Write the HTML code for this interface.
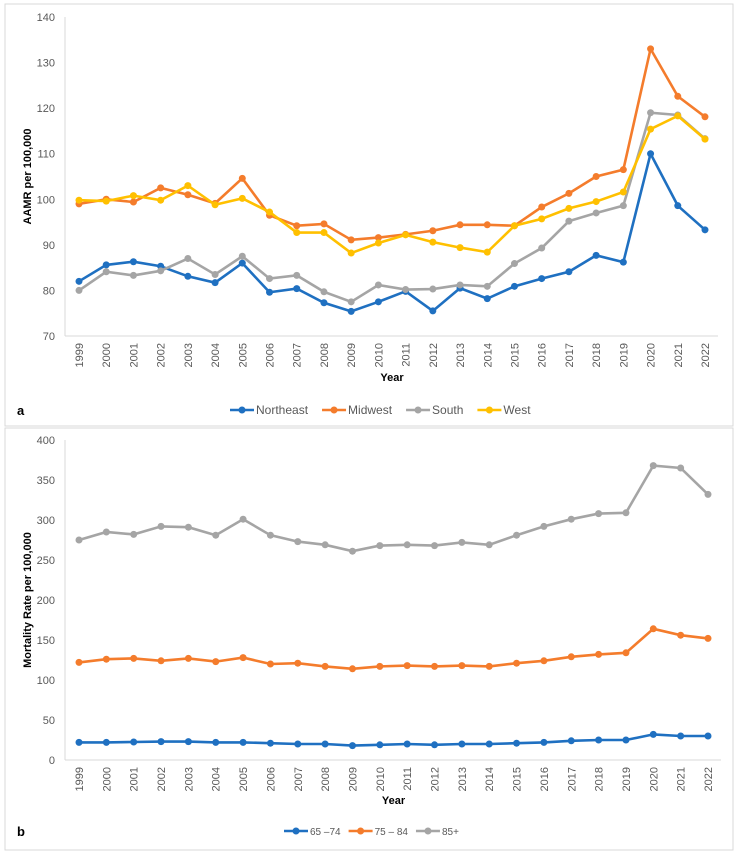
<!DOCTYPE html>
<html><head><meta charset="utf-8"><style>
body{margin:0;background:#fff;font-family:"Liberation Sans",sans-serif}
svg{display:block}
</style></head><body>
<svg id="c" width="738" height="854"></svg>
<script>
const years=["1999","2000","2001","2002","2003","2004","2005","2006","2007","2008","2009","2010","2011","2012","2013","2014","2015","2016","2017","2018","2019","2020","2021","2022"];
const northeast=[82,85.6,86.3,85.3,83.1,81.7,86,79.6,80.4,77.3,75.4,77.5,79.8,75.5,80.5,78.2,80.9,82.6,84.1,87.7,86.2,110,98.6,93.3];
const midwest=[99,100,99.4,102.5,101,99.1,104.6,96.5,94.2,94.6,91.1,91.6,92.3,93.1,94.4,94.4,94.2,98.3,101.3,105,106.5,133,122.6,118.1];
const south=[80,84.1,83.3,84.3,87,83.5,87.5,82.6,83.3,79.7,77.5,81.2,80.2,80.3,81.2,80.9,85.9,89.3,95.2,97,98.6,119,118.5,113.3];
const west=[99.8,99.6,100.8,99.8,103,98.8,100.2,97.2,92.7,92.7,88.2,90.4,92.2,90.6,89.4,88.4,94.2,95.7,98,99.5,101.6,115.4,118.3,113.2];
const ticksA=[70,80,90,100,110,120,130,140];
const age6574=[22,22,22.5,23,23,22,22,21,20,20,18,19,20,19,20,20,21,22,24,25,25,32,30,30];
const age7584=[122,126,127,124,127,123,128,120,121,117,114,117,118,117,118,117,121,124,129,132,134,164,156,152];
const age85=[275,285,282,292,291,281,301,281,273,269,261,268,269,268,272,269,281,292,301,308,309,368,365,332];
const ticksB=[0,50,100,150,200,250,300,350,400];
const NS="http://www.w3.org/2000/svg";
const svg=document.getElementById('c');
function el(t,a,p){const e=document.createElementNS(NS,t);for(const k in a)e.setAttribute(k,a[k]);(p||svg).appendChild(e);return e;}
function panel(cfg){
  const g=el('g',{});
  
  
  const fr=el('rect',{x:5,y:cfg.boxY,width:728,height:cfg.boxH,fill:'none',stroke:'#d9d9d9'},g);
  
  const x0=79,x1=cfg.xEnd,X=i=>x0+(x1-x0)*i/(years.length-1);
  const Y=v=>cfg.yBot-(v-cfg.min)/(cfg.max-cfg.min)*(cfg.yBot-cfg.yTop);
  const ax=el('line',{x1:65,y1:cfg.yTop,x2:65,y2:cfg.yBot,stroke:'#d9d9d9'},g);
  
  const bx=el('line',{x1:65,y1:cfg.yBot,x2:x1+13,y2:cfg.yBot,stroke:'#d9d9d9'},g);
  
  cfg.ticks.forEach(t=>{const e=el('text',{x:55,y:Y(t)+4,'text-anchor':'end','font-size':11,fill:'#595959'},g);e.textContent=t;
    });
  years.forEach((yr,i)=>{const e=el('text',{transform:`translate(${X(i)+4},${cfg.yBot+7}) rotate(-90)`,'text-anchor':'end','font-size':11,fill:'#595959'},g);e.textContent=yr;
    });
  const yt=el('text',{transform:`translate(31,${(cfg.yTop+cfg.yBot)/2}) rotate(-90)`,'text-anchor':'middle','font-size':11,'font-weight':'bold',fill:'#000'},g);
  yt.textContent=cfg.ytitle;
  const xt=el('text',{x:(x0+x1)/2,y:cfg.yearY,'text-anchor':'middle','font-size':11,'font-weight':'bold'},g);
  xt.textContent='Year';
  const lb=el('text',{x:17,y:cfg.legY+5,'font-size':13,'font-weight':'bold'},g);
  lb.textContent=cfg.label;
  cfg.series.forEach(s=>{
    const sg=el('g',{},g);
    const ln=el('polyline',{points:s.data.map((v,i)=>X(i)+','+Y(v)).join(' '),fill:'none',stroke:s.color,'stroke-width':2.6},sg);
    
    s.data.forEach((v,i)=>{const c=el('circle',{cx:X(i),cy:Y(v),r:3.5,fill:s.color},sg);
      });
  });
  let lx=cfg.legX;
  cfg.series.forEach(s=>{
    const lg=el('g',{},g);
    el('line',{x1:lx,y1:cfg.legY,x2:lx+24,y2:cfg.legY,stroke:s.color,'stroke-width':2.6},lg);
    el('circle',{cx:lx+12,cy:cfg.legY,r:3.5,fill:s.color},lg);
    const t=el('text',{x:lx+26,y:cfg.legY+4,'font-size':cfg.legFont,fill:'#595959'},lg);t.textContent=s.name;
    lx+=26+t.getComputedTextLength()+cfg.legGap;
  });
}
panel({name:'chart-a',boxY:4,boxH:422,yTop:17,yBot:336,min:70,max:140,ticks:ticksA,xEnd:705,ytitle:'AAMR per 100,000',yearY:381,legY:410,legX:230,legFont:12,legGap:14,label:'a',
  series:[{key:'northeast',name:'Northeast',color:'#1f70c1',data:northeast},{key:'midwest',name:'Midwest',color:'#f47c2c',data:midwest},
          {key:'south',name:'South',color:'#a5a5a5',data:south},{key:'west',name:'West',color:'#ffc000',data:west}]});
panel({name:'chart-b',boxY:428,boxH:422,yTop:440,yBot:760,min:0,max:400,ticks:ticksB,xEnd:708,ytitle:'Mortality Rate  per 100,000',yearY:804,legY:831,legX:284,legFont:10,legGap:8,label:'b',
  series:[{key:'65-74',name:'65 –74',color:'#1f70c1',data:age6574},{key:'75-84',name:'75 – 84',color:'#f47c2c',data:age7584},
          {key:'85plus',name:'85+',color:'#a5a5a5',data:age85}]});
</script>
</body></html>
